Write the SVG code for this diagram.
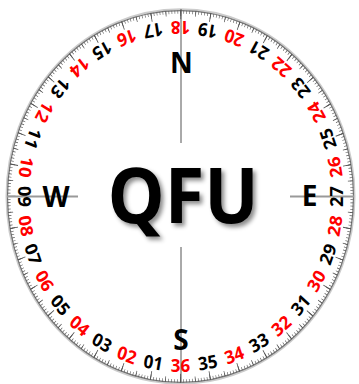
<svg xmlns="http://www.w3.org/2000/svg" width="359" height="384" viewBox="0 0 359 384">
<style>
.num{font-family:"Open Sans","Liberation Sans",sans-serif;font-weight:700;font-size:17px;text-anchor:middle}
.r{fill:#ff0000}
.k{fill:#000}
.card{font-family:"Open Sans","Liberation Sans",sans-serif;font-weight:700;font-size:28px;text-anchor:middle;fill:#000}
.qfu{font-family:"Open Sans","Liberation Sans",sans-serif;font-weight:700;font-size:72px;text-anchor:middle;fill:#000}
.tick{fill:none;stroke:#555}
</style>
<defs>
<filter id="sh" x="-10%" y="-10%" width="130%" height="140%">
<feDropShadow dx="3" dy="3" stdDeviation="2" flood-color="#000" flood-opacity="0.45"/>
</filter>
</defs>
<rect width="359" height="384" fill="#fff"/>
<g id="dial" transform="translate(180.5,196.5) scale(1,1.075)">
<circle r="174" fill="none" stroke="#ccc" stroke-width="2"/>
<circle r="173" fill="none" stroke="#777" stroke-width="1.2"/>
<circle class="tick" r="171.5" stroke-width="3" stroke-dasharray="0.6 2.3932" stroke-dashoffset="0.3"/>
<circle class="tick" r="170.5" stroke-width="5" stroke-dasharray="0.7 14.1789" stroke-dashoffset="0.35"/>
<circle class="tick" r="169" stroke-width="8" stroke-dasharray="0.8 28.696" stroke-dashoffset="0.4"/>
</g>
<g id="connectors">
<line x1="181" y1="9" x2="181" y2="143" stroke="#555" stroke-width="1"/>
<line x1="181" y1="247" x2="181" y2="382" stroke="#555" stroke-width="1"/>
<line x1="7" y1="196.5" x2="78" y2="196.5" stroke="#999" stroke-width="2"/>
<line x1="290" y1="196.5" x2="354" y2="196.5" stroke="#999" stroke-width="2"/>
</g>
<g id="numbers" transform="translate(180.5,196.5) scale(1,1.075)">
<text class="num k" transform="rotate(10)" y="163">01</text>
<text class="num r" transform="rotate(20)" y="163">02</text>
<text class="num k" transform="rotate(30)" y="163">03</text>
<text class="num r" transform="rotate(40)" y="163">04</text>
<text class="num k" transform="rotate(50)" y="163">05</text>
<text class="num r" transform="rotate(60)" y="163">06</text>
<text class="num k" transform="rotate(70)" y="163">07</text>
<text class="num r" transform="rotate(80)" y="163">08</text>
<text class="num k" transform="rotate(90)" y="163">09</text>
<text class="num r" transform="rotate(100)" y="163">10</text>
<text class="num k" transform="rotate(110)" y="163">11</text>
<text class="num r" transform="rotate(120)" y="163">12</text>
<text class="num k" transform="rotate(130)" y="163">13</text>
<text class="num r" transform="rotate(140)" y="163">14</text>
<text class="num k" transform="rotate(150)" y="163">15</text>
<text class="num r" transform="rotate(160)" y="163">16</text>
<text class="num k" transform="rotate(170)" y="163">17</text>
<text class="num r" transform="rotate(180)" y="163">18</text>
<text class="num k" transform="rotate(190)" y="163">19</text>
<text class="num r" transform="rotate(200)" y="163">20</text>
<text class="num k" transform="rotate(210)" y="163">21</text>
<text class="num r" transform="rotate(220)" y="163">22</text>
<text class="num k" transform="rotate(230)" y="163">23</text>
<text class="num r" transform="rotate(240)" y="163">24</text>
<text class="num k" transform="rotate(250)" y="163">25</text>
<text class="num r" transform="rotate(260)" y="163">26</text>
<text class="num k" transform="rotate(270)" y="163">27</text>
<text class="num r" transform="rotate(280)" y="163">28</text>
<text class="num k" transform="rotate(290)" y="163">29</text>
<text class="num r" transform="rotate(300)" y="163">30</text>
<text class="num k" transform="rotate(310)" y="163">31</text>
<text class="num r" transform="rotate(320)" y="163">32</text>
<text class="num k" transform="rotate(330)" y="163">33</text>
<text class="num r" transform="rotate(340)" y="163">34</text>
<text class="num k" transform="rotate(350)" y="163">35</text>
<text class="num r" transform="rotate(360)" y="163">36</text>
</g>
<g id="N"><text class="card" x="181.3" y="73.3">N</text></g>
<g id="S"><text class="card" x="181" y="350">S</text></g>
<g id="W"><text class="card" x="56" y="206.5">W</text></g>
<g id="E"><text class="card" x="309.5" y="206">E</text></g>
<g id="QFU" transform="translate(183,223) scale(1,1.075)"><text class="qfu" filter="url(#sh)">QFU</text></g>
</svg>
